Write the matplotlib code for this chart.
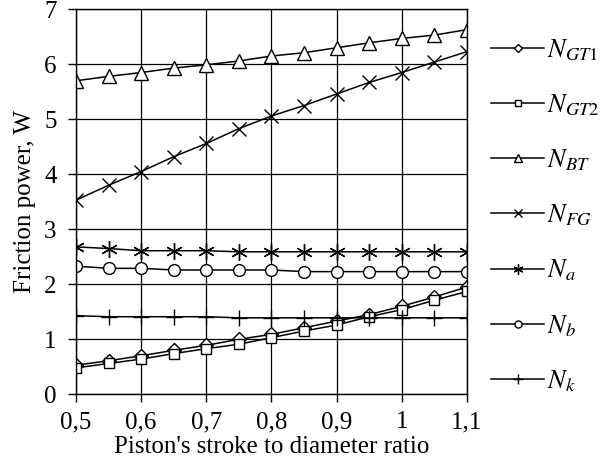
import matplotlib
matplotlib.use("Agg")
import matplotlib.pyplot as plt
from matplotlib.ticker import FuncFormatter

x = [0.5, 0.55, 0.6, 0.65, 0.7, 0.75, 0.8, 0.85, 0.9, 0.95, 1.0, 1.05, 1.1]
N_GT1 = [0.53, 0.61, 0.70, 0.80, 0.89, 1.00, 1.09, 1.21, 1.33, 1.45, 1.60, 1.77, 1.95]
N_GT2 = [0.48, 0.56, 0.64, 0.74, 0.83, 0.91, 1.03, 1.15, 1.26, 1.41, 1.54, 1.71, 1.87]
N_BT = [5.70, 5.78, 5.85, 5.93, 5.99, 6.06, 6.15, 6.21, 6.30, 6.39, 6.47, 6.53, 6.63]
N_FG = [3.53, 3.80, 4.05, 4.32, 4.56, 4.83, 5.06, 5.25, 5.46, 5.67, 5.85, 6.04, 6.23]
N_a = [2.68, 2.65, 2.61, 2.61, 2.61, 2.59, 2.59, 2.59, 2.59, 2.59, 2.59, 2.59, 2.59]
N_b = [2.33, 2.29, 2.29, 2.26, 2.26, 2.26, 2.26, 2.23, 2.23, 2.23, 2.23, 2.23, 2.23]
N_k = [1.43, 1.41, 1.41, 1.41, 1.41, 1.39, 1.39, 1.39, 1.39, 1.39, 1.39, 1.39, 1.39]

series = [
    (N_GT1, "D", r"$N_{GT1}$", 7),
    (N_GT2, "s", r"$N_{GT2}$", 7.5),
    (N_BT, "^", r"$N_{BT}$", 10),
    (N_FG, "x", r"$N_{FG}$", 10),
    (N_a, (6, 2, 0), r"$N_a$", 12),
    (N_b, "o", r"$N_b$", 8.5),
    (N_k, "+", r"$N_k$", 11),
]

plt.rcParams["font.family"] = ["Liberation Serif", "DejaVu Serif"]
plt.rcParams["mathtext.fontset"] = "stix"

fig = plt.figure(figsize=(6.06, 4.63), dpi=100)
ax = fig.add_axes([0.1254, 0.1484, 0.6452, 0.8316])

for vals, mk, lab, ms in series:
    ax.plot(x, vals, color="black", lw=1.1, marker=mk, markersize=ms,
            markerfacecolor="white", markeredgecolor="black", markeredgewidth=1.0,
            label=lab)

ax.set_xlim(0.5, 1.1)
ax.set_ylim(0, 7)
ax.set_xticks([0.5, 0.6, 0.7, 0.8, 0.9, 1.0, 1.1])
ax.set_yticks(range(0, 8))
fmt = FuncFormatter(lambda v, p: ("%g" % round(v, 2)).replace(".", ","))
ax.xaxis.set_major_formatter(fmt)
ax.grid(True, which="major", color="black", lw=0.9)
ax.tick_params(which="major", direction="out", length=6, width=1, labelsize=18, colors="black")
ax.tick_params(axis="x", pad=6)
ax.tick_params(axis="y", pad=8)
for s in ax.spines.values():
    s.set_color("black")
    s.set_linewidth(1)
ax.set_axisbelow(True)

ax.set_xlabel("Piston's stroke to diameter ratio", fontsize=18, labelpad=2)
ax.set_ylabel("Friction power, W", fontsize=18, labelpad=6)

leg = ax.legend(loc="upper left", bbox_to_anchor=(1.035, 0.955), frameon=False,
                fontsize=19, markerscale=0.6, handlelength=2.0, handletextpad=0.12,
                labelspacing=1.12, borderaxespad=0)

fig.savefig("out.png", dpi=100)
